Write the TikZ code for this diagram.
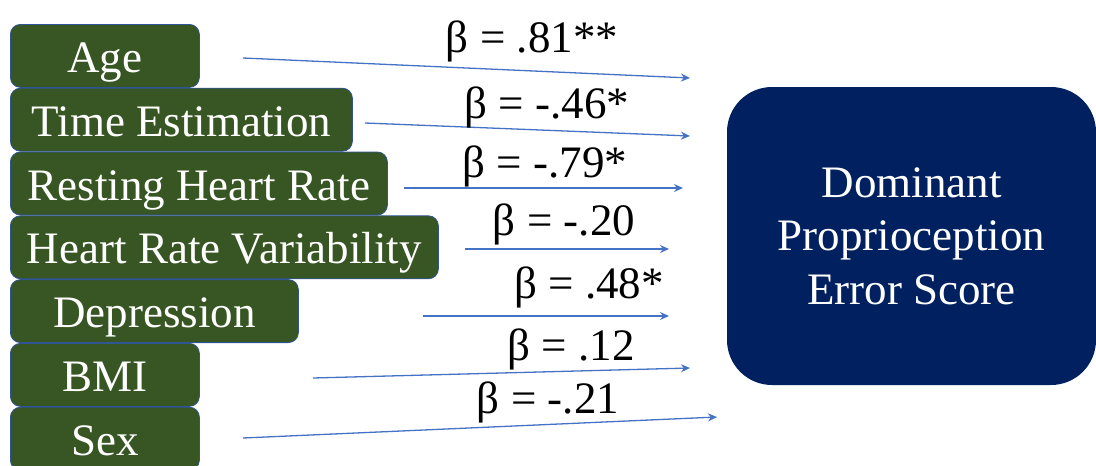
\documentclass[tikz,border=0pt]{standalone}
\usepackage{fontspec}
\setmainfont{Liberation Serif}
\usetikzlibrary{arrows.meta, positioning}
\definecolor{boxgreen}{HTML}{375623}
\definecolor{boxedge}{HTML}{2F5597}
\definecolor{navy}{HTML}{002060}
\definecolor{arrowblue}{HTML}{4472C4}

\begin{document}
\begin{tikzpicture}[
  x=1pt, y=-1pt,
  var/.style={rectangle, rounded corners=10pt, draw=boxedge, fill=boxgreen,
    line width=0.8pt, text=white, minimum height=63pt, inner sep=0pt,
    text height=33pt, text depth=0pt, font=\fontsize{45}{54}\selectfont},
  outcome/.style={rectangle, rounded corners=45pt, fill=navy, text=white,
    minimum width=369pt, minimum height=298pt, align=center,
    font=\fontsize{45}{53.5}\selectfont},
  coef/.style={anchor=base, inner sep=0pt, font=\fontsize{45}{54}\selectfont},
  path/.style={-{Stealth[length=9pt, width=8pt]}, draw=arrowblue, line width=1.3pt}
]
\useasboundingbox (0,0) rectangle (1096,466);

% predictors
\node[var, minimum width=189pt, anchor=north west] (age) at (10,24) {Age};
\node[var, minimum width=342pt, below=0pt of age.south west, anchor=north west] (time) {Time Estimation};
\node[var, minimum width=377pt, below=0pt of time.south west, anchor=north west] (rhr) {Resting Heart Rate};
\node[var, minimum width=428pt, below=0pt of rhr.south west, anchor=north west] (hrv) {Heart Rate Variability};
\node[var, minimum width=288pt, below=0pt of hrv.south west, anchor=north west] (dep) {Depression};
\node[var, minimum width=189pt, below=0pt of dep.south west, anchor=north west] (bmi) {BMI};
\node[var, minimum width=189pt, below=0pt of bmi.south west, anchor=north west] (sex) {Sex};

% outcome
\node[outcome] (score) at (911.5,236) {Dominant\\Proprioception\\Error Score};

% arrow ends
\coordinate (s1) at (243,58);  \coordinate (t1) at (690,78);
\coordinate (s2) at (365,123); \coordinate (t2) at (690,136);
\coordinate (s3) at (404,188); \coordinate (t3) at (683,188);
\coordinate (s4) at (465,249); \coordinate (t4) at (669,249);
\coordinate (s5) at (423,316); \coordinate (t5) at (669,316);
\coordinate (s6) at (313,378); \coordinate (t6) at (690,368);
\coordinate (s7) at (243,438); \coordinate (t7) at (717,417);

\draw[path] (s1) -- (t1);
\draw[path] (s2) -- (t2);
\draw[path] (s3) -- (t3);
\draw[path] (s4) -- (t4);
\draw[path] (s5) -- (t5);
\draw[path] (s6) -- (t6);
\draw[path] (s7) -- (t7);

% coefficients
\node[coef] (b1) at (532,52) {β = .81**};
\node[coef] (b2) at (547,118) {β = -.46*};
\node[coef] (b3) at (545,177) {β = -.79*};
\node[coef] (b4) at (564,235) {β = -.20};
\node[coef] (b5) at (589,298) {β = .48*};
\node[coef] (b6) at (571,360) {β = .12};
\node[coef] (b7) at (548,413) {β = -.21};
\end{tikzpicture}
\end{document}
